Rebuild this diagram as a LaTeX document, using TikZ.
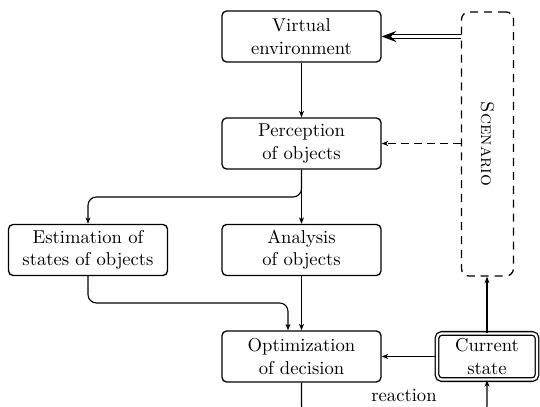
\documentclass[tikz,border=0pt]{standalone}
\usetikzlibrary{arrows.meta}
\begin{document}
\begin{tikzpicture}[x=0.537pt,y=-0.537pt,
  box/.style={draw, line width=0.7pt, rounded corners=2.5pt, minimum width=85.4pt, minimum height=27.4pt, align=center, inner sep=2pt},
  dbox/.style={box, double, double distance=1.2pt, minimum width=53.7pt, minimum height=24.8pt},
  scen/.style={draw, line width=0.7pt, dash pattern=on 4.3pt off 3.2pt, rounded corners=4pt, minimum width=27.9pt, minimum height=141.8pt, inner sep=0pt},
  conn/.style={line width=0.6pt, -{Stealth[length=3.4pt, width=2.6pt, inset=0.9pt]}, rounded corners=4.5pt},
  dconn/.style={line width=0.5pt, double, double distance=1.3pt, -{Stealth[length=8pt, width=6pt, inset=3pt]}},
  dashconn/.style={conn, dash pattern=on 4.3pt off 2.7pt}]
\useasboundingbox (0,0) rectangle (540,407);
\node[box] (ve) at (301.5,36.5) {Virtual\\environment};
\node[box] (po) at (301.5,143.5) {Perception\\of objects};
\node[box] (es) at (88,250) {Estimation of\\states of objects};
\node[box] (an) at (301.5,250) {Analysis\\of objects};
\node[box] (op) at (301.5,356.5) {Optimization\\of decision};
\node[dbox] (cs) at (487,356.5) {Current\\state};
\node[scen] (sc) at (487.5,144) {};
\node[rotate=-90] (sctext) at (sc.center) {\textsc{Scenario}};
\coordinate (split) at (301.5,197);
\coordinate (join) at (288,303);
\coordinate (react) at (301.5,414);
\draw[conn] (ve) -- (po);
\draw[conn] (po.south) -- (an.north);
\draw[conn] (po.south) -- (split) -| (es.north);
\draw[conn] (es.south) |- (join) -- (join |- op.north);
\draw[conn] (an) -- (op);
\draw[conn] (cs) -- (op);
\draw[conn] (cs.north) -- (cs.north |- sc.south);
\draw[dconn] (sc.west |- ve) -- (ve.east);
\draw[dashconn] (sc.west |- po) -- (po.east);
\draw[conn] (op.south) -- (react) -| (cs.south);
\node (lbl) at (404,395) {reaction};
\end{tikzpicture}
\end{document}
